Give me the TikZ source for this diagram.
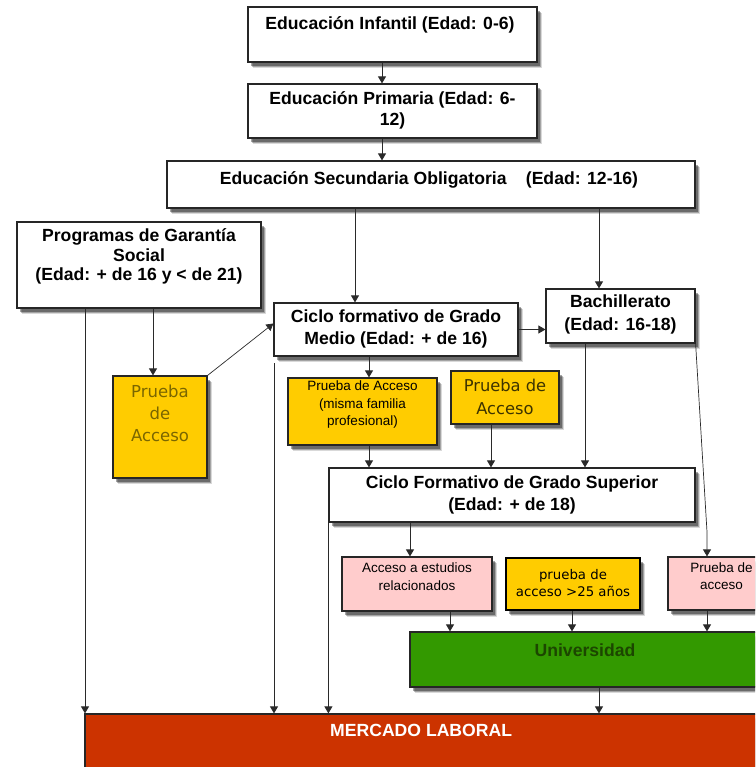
\documentclass[tikz,border=0pt]{standalone}
\usepackage{fontspec}
\setmainfont{Liberation Sans}
\newfontfamily\dvfont{DejaVu Sans}
\usetikzlibrary{arrows.meta,shadows}
\definecolor{ylw}{HTML}{FFCC00}
\definecolor{pnk}{HTML}{FFCCCC}
\definecolor{grn}{HTML}{339900}
\definecolor{mred}{HTML}{CC3300}
\definecolor{dgrn}{HTML}{1C4600}
\definecolor{olv}{HTML}{7A6600}
\definecolor{pmc}{HTML}{3D3300}
\definecolor{lnc}{HTML}{2A2A2A}
\tikzset{
  box/.style={draw=black!85, line width=1.2pt, fill=white, inner sep=0pt,
    drop shadow={shadow xshift=5pt, shadow yshift=-6pt, fill=black, opacity=0.15},
    drop shadow={shadow xshift=4pt, shadow yshift=-5pt, fill=black, opacity=0.25},
    drop shadow={shadow xshift=3pt, shadow yshift=-4pt, fill=black, opacity=0.35}},
  ybox/.style={box, fill=ylw},
  pbox/.style={box, fill=pnk},
  arr/.style={draw=lnc, line width=1pt, -{Triangle[width=8pt,length=7pt]}},
  hd/.style={align=center, inner sep=0pt, anchor=center},
}
\begin{document}
\begin{tikzpicture}[x=1pt,y=-1pt]
\path[use as bounding box] (0,0) rectangle (755,767);
\clip (0,0) rectangle (755,767);

% boxes
\node[box, minimum width=289pt, minimum height=55pt] (inf) at (392.5,34.5) {};
\node[hd, font=\fontsize{17.6}{21}\selectfont\bfseries] (tinf) at (390,25) {Educación Infantil (Edad: 0-6)};
\node[box, minimum width=289pt, minimum height=54pt] (pri) at (392.5,111) {};
\node[hd, font=\fontsize{17.6}{21}\selectfont\bfseries] (tpri) at (392.5,110.5) {Educación Primaria (Edad: 6-\\12)};
\node[box, minimum width=528pt, minimum height=47pt] (sec) at (431,184.5) {};
\node[hd, font=\fontsize{17.6}{21}\selectfont\bfseries] (tsec) at (429,180) {Educación Secundaria Obligatoria\hspace{1.1em}(Edad: 12-16)};
\node[box, minimum width=244pt, minimum height=86pt] (gar) at (139,265) {};
\node[hd, font=\fontsize{17.6}{19.5}\selectfont\bfseries] (tgar) at (139,256.5) {Programas de Garantía\\Social\\(Edad: + de 16 y < de 21)};
\node[box, minimum width=244pt, minimum height=53pt] (medio) at (396,329.5) {};
\node[hd, font=\fontsize{17.6}{22}\selectfont\bfseries] (tmedio) at (396,329) {Ciclo formativo de Grado\\Medio (Edad: + de 16)};
\node[box, minimum width=149pt, minimum height=54pt] (bach) at (620.5,316) {};
\node[hd, font=\fontsize{17.6}{23}\selectfont\bfseries] (tbach) at (620.5,314.5) {Bachillerato\\(Edad: 16-18)};
\node[ybox, minimum width=94pt, minimum height=102pt] (prl) at (160,427) {};
\node[hd, font=\dvfont\fontsize{16.5}{22}\selectfont, text=olv] (tprl) at (160,413.5) {Prueba\\de\\Acceso};
\node[ybox, minimum width=149pt, minimum height=67pt] (misma) at (362.5,411.5) {};
\node[hd, font=\fontsize{13.5}{17.5}\selectfont] (tmisma) at (362.5,405) {Prueba de Acceso\\(misma familia\\profesional)};
\node[ybox, minimum width=108pt, minimum height=53pt] (pm) at (505,397.5) {};
\node[hd, font=\dvfont\fontsize{16.3}{23}\selectfont, text=pmc] (tpm) at (505,396.5) {Prueba de\\Acceso};
\node[box, minimum width=366pt, minimum height=54pt] (sup) at (512,495) {};
\node[hd, font=\fontsize{17.6}{22}\selectfont\bfseries] (tsup) at (512,495) {Ciclo Formativo de Grado Superior\\(Edad: + de 18)};
\node[pbox, minimum width=150pt, minimum height=54pt] (acc) at (417,584) {};
\node[hd, font=\fontsize{13.5}{18}\selectfont] (tacc) at (417,577) {Acceso a estudios\\relacionados};
\node[ybox, draw=black, line width=2.4pt, minimum width=134pt, minimum height=52pt] (p25) at (573,584) {};
\node[hd, font=\dvfont\fontsize{13.3}{17}\selectfont] (tp25) at (573,583.5) {prueba de\\acceso >25 años};
\node[pbox, minimum width=107pt, minimum height=53pt] (pr) at (721.5,583.5) {};
\node[hd, font=\fontsize{13.5}{17}\selectfont] (tpr) at (721.5,576.5) {Prueba de\\acceso};
\node[box, fill=grn, minimum width=350pt, minimum height=55pt] (uni) at (585,659.5) {};
\node[hd, font=\fontsize{17.6}{21}\selectfont\bfseries, text=dgrn] (tuni) at (585,650) {Universidad};
\node[box, fill=mred, minimum width=705pt, minimum height=76pt] (merc) at (437.5,752) {};
\node[hd, anchor=west, font=\fontsize{17.6}{21}\selectfont\bfseries, text=white] (tmerc) at (330,730) {MERCADO LABORAL};

% x positions of connectors
\coordinate (xa) at (382,0);
\coordinate (xb) at (355,0);
\coordinate (xc) at (599,0);
\coordinate (xd) at (153,0);
\coordinate (xe) at (85,0);
\coordinate (xf) at (369,0);
\coordinate (xg) at (491,0);
\coordinate (xh) at (585,0);
\coordinate (xi) at (410,0);
\coordinate (xj) at (450,0);
\coordinate (xk) at (572,0);
\coordinate (kb) at (707,532);
\coordinate (c274) at (274,363);

% connectors
\draw[arr] (inf.south -| xa) -- (pri.north -| xa);
\draw[arr] (pri.south -| xa) -- (sec.north -| xa);
\draw[arr] (sec.south -| xb) -- (medio.north -| xb);
\draw[arr] (sec.south -| xc) -- (bach.north -| xc);
\draw[arr] (gar.south -| xd) -- (prl.north -| xd);
\draw[arr] (gar.south -| xe) -- (merc.north -| xe);
\draw[arr, line width=0.7pt] (prl.north east) -- ([yshift=6pt]medio.west);
\draw[arr] (medio.east) -- (medio.east -| bach.west);
\draw[arr] (medio.south -| xf) -- (misma.north -| xf);
\draw[arr] (misma.south -| xf) -- (sup.north -| xf);
\draw[arr] (pm.south -| xg) -- (sup.north -| xg);
\draw[arr] (bach.south -| xh) -- (sup.north -| xh);
\draw[arr, line width=0.7pt] (bach.south east) -- (kb) -- (pr.north -| kb);
\draw[arr] (c274) -- (c274 |- merc.north);
\draw[arr] (sup.south west) -- (sup.south west |- merc.north);
\draw[arr] (sup.south -| xi) -- (acc.north -| xi);
\draw[arr] (acc.south -| xj) -- (uni.north -| xj);
\draw[arr] (p25.south -| xk) -- (uni.north -| xk);
\draw[arr] (pr.south -| kb) -- (uni.north -| kb);
\draw[arr] (uni.south -| xc) -- (merc.north -| xc);
\end{tikzpicture}
\end{document}
